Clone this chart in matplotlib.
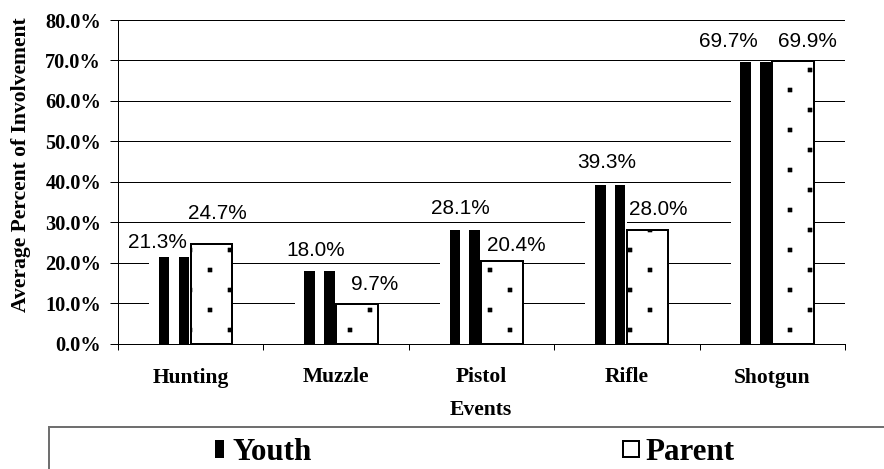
import numpy as np
import matplotlib
matplotlib.use("Agg")
import matplotlib.pyplot as plt
import matplotlib.hatch as mhatch
from matplotlib.path import Path
from matplotlib.lines import Line2D
from matplotlib.patches import Rectangle
from matplotlib.ticker import FixedLocator, NullFormatter, FuncFormatter

# ---------------- data ----------------
categories = ["Hunting", "Muzzle", "Pistol", "Rifle", "Shotgun"]
youth = [21.3, 18.0, 28.1, 39.3, 69.7]
parent = [24.7, 9.7, 20.4, 28.0, 69.9]
series_names = ["Youth", "Parent"]
yticks = [0, 10, 20, 30, 40, 50, 60, 70, 80]
ylabel = "Average Percent of Involvement"
xlabel = "Events"

# label nudges (pixels): horizontal shift, height of label centre above bar top
youth_dx = [-12.5, 0.5, 0.0, 0.0, -23.5]
youth_dy = [17, 22, 23, 24.5, 22]
parent_dx = [6, 17.5, 14.5, 11, 14]
parent_dy = [32, 22, 17.5, 23, 21.5]

DPI = 80
PX = 72.0 / DPI  # points per pixel


# sparse square-dot pattern (Excel style 5% pattern) replacing the '.' hatch
class SparseSquareDots(mhatch.HatchPatternBase):
    half = 0.026
    centers = [(0.125, 0.125), (0.625, 0.125), (0.375, 0.375), (0.875, 0.375),
               (0.125, 0.625), (0.625, 0.625), (0.375, 0.875), (0.875, 0.875)]

    def __init__(self, hatch, density):
        self.num_vertices = 5 * len(self.centers) if hatch.count('.') else 0

    def set_vertices_and_codes(self, vertices, codes):
        h = self.half
        for i, (cx, cy) in enumerate(self.centers):
            vertices[5 * i:5 * i + 5] = [(cx - h, cy - h), (cx + h, cy - h),
                                         (cx + h, cy + h), (cx - h, cy + h),
                                         (cx - h, cy - h)]
            codes[5 * i:5 * i + 5] = [Path.MOVETO, Path.LINETO, Path.LINETO,
                                      Path.LINETO, Path.CLOSEPOLY]


mhatch._hatch_types = [t for t in mhatch._hatch_types
                       if t is not mhatch.SmallFilledCircles] + [SparseSquareDots]
plt.rcParams['hatch.linewidth'] = 0.3

SERIF = ['Liberation Serif', 'DejaVu Serif']
SANS = ['Liberation Sans', 'DejaVu Sans']

fig = plt.figure(figsize=(884 / DPI, 469 / DPI), dpi=DPI)
ax = fig.add_axes([118 / 884, 1 - 343.5 / 469, 727 / 884, 323.5 / 469])

x = np.arange(len(categories))
w = 0.285

# youth bars: white background with two wide black vertical stripes
ax.bar(x - w, youth, w, align='edge', color='white', edgecolor='none', zorder=2)
for off in (-0.183, -0.047):
    ax.bar(x + off, youth, 0.072, align='center', color='black',
           edgecolor='none', zorder=3)

# parent bars: white with sparse dots and black border
ax.bar(x, parent, w, align='edge', facecolor='white', edgecolor='black',
       linewidth=2 * PX, hatch='.', zorder=3)

# value labels
for i in range(len(categories)):
    ax.annotate(f"{youth[i]:.1f}%", xy=(x[i] - w / 2, youth[i]),
                xytext=(youth_dx[i] * PX, (youth_dy[i] - 7.5) * PX),
                textcoords='offset points', ha='center', va='baseline',
                fontsize=18.7, family=SANS, zorder=5)
    ax.annotate(f"{parent[i]:.1f}%", xy=(x[i] + w / 2, parent[i]),
                xytext=(parent_dx[i] * PX, (parent_dy[i] - 7.5) * PX),
                textcoords='offset points', ha='center', va='baseline',
                fontsize=18.7, family=SANS, zorder=5)

# axes styling
ax.set_xlim(-0.5, len(categories) - 0.5)
ax.set_ylim(yticks[0], yticks[-1])
ax.set_yticks(yticks)
ax.yaxis.set_major_formatter(FuncFormatter(lambda v, p: f"{v:.1f}%"))
ax.grid(axis='y', color='black', linewidth=1 * PX)
ax.set_axisbelow(True)
for s in ('top', 'right'):
    ax.spines[s].set_visible(False)
for s in ('left', 'bottom'):
    ax.spines[s].set_linewidth(1 * PX)
    ax.spines[s].set_color('black')

ax.tick_params(axis='y', direction='out', length=8 * PX, width=1 * PX,
               pad=9 * PX, labelsize=18.3)
for lab in ax.get_yticklabels():
    lab.set_family(SERIF)
    lab.set_fontweight('bold')

ax.xaxis.set_major_locator(FixedLocator(np.arange(-0.5, len(categories), 1.0)))
ax.xaxis.set_major_formatter(NullFormatter())
ax.xaxis.set_minor_locator(FixedLocator(x))
ax.set_xticklabels(categories, minor=True)
ax.tick_params(axis='x', which='major', direction='out', length=6 * PX, width=1 * PX)
ax.tick_params(axis='x', which='minor', length=0, pad=24 * PX, labelsize=19.3)
for lab in ax.get_xticklabels(minor=True):
    lab.set_family(SERIF)
    lab.set_fontweight('bold')

ax.set_ylabel(ylabel, family=SERIF, fontweight='bold', fontsize=19.5, va='center')
ax.yaxis.set_label_coords((21 - 118) / 727, (343.5 - 165) / 323.5)
ax.set_xlabel(xlabel, family=SERIF, fontweight='bold', fontsize=19.5, va='top')
ax.xaxis.set_label_coords((481 - 118) / 727, (343.5 - 400) / 323.5)

# legend
handles = [
    Line2D([], [], linestyle='none',
           marker=[(-0.25, -0.5), (0.25, -0.5), (0.25, 0.5), (-0.25, 0.5)],
           markersize=18 * PX, markerfacecolor='black', markeredgewidth=0),
    Line2D([], [], linestyle='none', marker='s', markersize=16 * PX,
           markerfacecolor='white', markeredgecolor='black',
           markeredgewidth=2 * PX),
]
fig.legend(handles, series_names, loc='center left',
           bbox_to_anchor=(209.2 / 884, 1 - 452 / 469), ncol=2,
           frameon=False, borderpad=0, borderaxespad=0,
           handlelength=0.6, handletextpad=0.15, columnspacing=10.0,
           prop={'family': SERIF, 'weight': 'bold', 'size': 27.9})
fig.patches.append(Rectangle((49 / 884, -0.2), 1.2, 0.2 + (1 - 427 / 469),
                             transform=fig.transFigure, fill=False,
                             edgecolor='#707070', linewidth=2 * PX,
                             clip_on=False))

fig.savefig("out.png", dpi=DPI)
